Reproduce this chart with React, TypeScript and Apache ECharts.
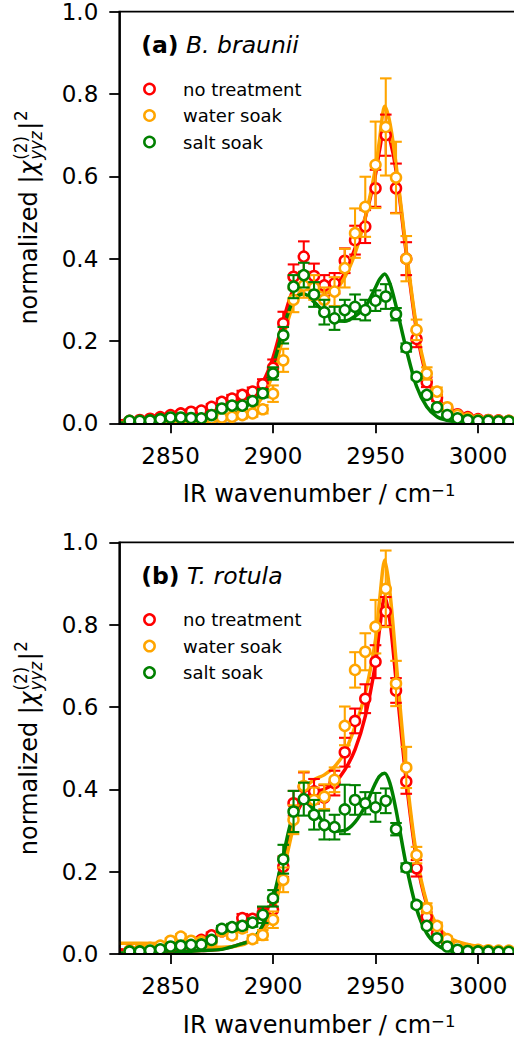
import React, { useEffect, useRef } from "react";
import * as echarts from "echarts";

// ---------- data ----------
const wavenumbers = [
  2830, 2835, 2840, 2845, 2850, 2855, 2860, 2865, 2870, 2875, 2880, 2885, 2890,
  2895, 2900, 2905, 2910, 2915, 2920, 2925, 2930, 2935, 2940, 2945, 2950, 2955,
  2960, 2965, 2970, 2975, 2980, 2985, 2990, 2995, 3000, 3005, 3010, 3015,
];

// panel (a) B. braunii
const redA = [0.006,0.008,0.011,0.015,0.020,0.024,0.028,0.031,0.040,0.052,0.060,0.069,0.077,0.095,0.135,0.243,0.356,0.405,0.358,0.335,0.340,0.395,0.445,0.478,0.571,0.700,0.571,0.400,0.205,0.100,0.062,0.036,0.022,0.015,0.010,0.008,0.007,0.006];
const orangeA = [0.005,0.005,0.005,0.006,0.007,0.008,0.009,0.010,0.012,0.014,0.016,0.020,0.024,0.034,0.072,0.153,0.300,0.335,0.330,0.300,0.320,0.377,0.462,0.526,0.628,0.720,0.597,0.400,0.227,0.121,0.077,0.039,0.020,0.012,0.008,0.007,0.006,0.006];
const greenA = [0.006,0.006,0.007,0.010,0.014,0.014,0.013,0.012,0.020,0.036,0.043,0.043,0.054,0.073,0.121,0.214,0.332,0.360,0.313,0.270,0.255,0.275,0.283,0.275,0.298,0.308,0.265,0.184,0.113,0.069,0.039,0.020,0.012,0.008,0.006,0.006,0.005,0.005];
const errRedA = [0.004,0.004,0.004,0.005,0.005,0.005,0.006,0.006,0.007,0.008,0.009,0.010,0.010,0.012,0.020,0.028,0.030,0.037,0.030,0.025,0.025,0.030,0.035,0.040,0.045,0.050,0.060,0.040,0.020,0.012,0.008,0.006,0.005,0.004,0.004,0.004,0.004,0.004];
const errOrangeA = [0.004,0.004,0.004,0.004,0.005,0.005,0.005,0.006,0.006,0.007,0.007,0.008,0.008,0.010,0.020,0.028,0.030,0.030,0.030,0.030,0.035,0.047,0.060,0.073,0.105,0.118,0.087,0.055,0.025,0.015,0.010,0.006,0.004,0.004,0.004,0.004,0.004,0.004];
const errGreenA = [0.004,0.004,0.004,0.004,0.004,0.005,0.005,0.005,0.006,0.006,0.007,0.007,0.008,0.010,0.015,0.020,0.028,0.030,0.030,0.030,0.028,0.025,0.030,0.025,0.025,0.030,0.015,0.010,0.006,0.004,0.004,0.004,0.004,0.004,0.004,0.004,0.004,0.004];

// panel (b) T. rotula
const redB = [0.008,0.009,0.010,0.012,0.018,0.022,0.028,0.034,0.045,0.055,0.063,0.087,0.085,0.100,0.107,0.212,0.366,0.406,0.395,0.380,0.415,0.490,0.566,0.620,0.710,0.832,0.640,0.419,0.208,0.090,0.050,0.026,0.015,0.010,0.008,0.007,0.006,0.006];
const orangeB = [0.008,0.010,0.015,0.020,0.032,0.042,0.032,0.030,0.030,0.055,0.045,0.062,0.036,0.046,0.083,0.180,0.326,0.408,0.374,0.382,0.423,0.554,0.690,0.734,0.795,0.887,0.657,0.453,0.240,0.111,0.068,0.036,0.018,0.012,0.010,0.009,0.008,0.008];
const greenB = [0.006,0.006,0.008,0.011,0.018,0.020,0.022,0.023,0.034,0.061,0.065,0.068,0.076,0.095,0.135,0.230,0.346,0.376,0.338,0.313,0.308,0.351,0.374,0.366,0.356,0.372,0.303,0.210,0.119,0.068,0.038,0.018,0.010,0.007,0.006,0.006,0.005,0.005];
const errRedB = [0.004,0.004,0.004,0.005,0.005,0.005,0.006,0.006,0.007,0.008,0.009,0.010,0.010,0.012,0.020,0.025,0.030,0.035,0.030,0.030,0.030,0.035,0.030,0.035,0.040,0.035,0.030,0.030,0.020,0.012,0.008,0.006,0.005,0.004,0.004,0.004,0.004,0.004];
const errOrangeB = [0.004,0.004,0.005,0.005,0.006,0.006,0.006,0.006,0.007,0.008,0.008,0.009,0.009,0.012,0.020,0.030,0.035,0.035,0.030,0.030,0.030,0.047,0.043,0.045,0.065,0.093,0.055,0.050,0.020,0.012,0.008,0.006,0.005,0.004,0.004,0.004,0.004,0.004];
const errGreenB = [0.004,0.004,0.004,0.004,0.005,0.005,0.005,0.005,0.006,0.007,0.008,0.008,0.010,0.020,0.020,0.035,0.050,0.040,0.036,0.035,0.030,0.060,0.036,0.027,0.035,0.030,0.015,0.010,0.006,0.004,0.004,0.004,0.004,0.004,0.004,0.004,0.004,0.004];

// fitted curves
const fitX = [2825,2835,2845,2855,2865,2875,2885,2890,2895,2900,2905,2910,2915,2920,2925,2930,2935,2940,2945,2950,2952,2954.5,2957,2960,2965,2970,2975,2980,2985,2990,3000,3010,3020];
const fitRedA = [0.006,0.008,0.012,0.018,0.027,0.040,0.058,0.070,0.100,0.160,0.250,0.325,0.340,0.336,0.330,0.335,0.365,0.425,0.500,0.605,0.665,0.720,0.690,0.615,0.413,0.227,0.113,0.062,0.036,0.024,0.012,0.008,0.006];
const fitOrangeA = [0.002,0.002,0.003,0.004,0.006,0.008,0.020,0.035,0.065,0.120,0.210,0.290,0.325,0.325,0.318,0.322,0.355,0.413,0.500,0.620,0.690,0.770,0.730,0.630,0.420,0.235,0.120,0.060,0.032,0.020,0.010,0.006,0.004];
const fitGreenA = [0.001,0.001,0.002,0.003,0.004,0.010,0.035,0.055,0.085,0.140,0.230,0.300,0.315,0.295,0.270,0.250,0.248,0.260,0.283,0.330,0.350,0.363,0.340,0.285,0.180,0.090,0.040,0.016,0.007,0.003,0.001,0.001,0.000];
const fitRedB = [0.010,0.008,0.007,0.007,0.008,0.012,0.025,0.035,0.060,0.110,0.210,0.320,0.374,0.394,0.400,0.415,0.447,0.496,0.577,0.706,0.790,0.868,0.810,0.666,0.420,0.230,0.120,0.065,0.040,0.027,0.016,0.011,0.008];
const fitOrangeB = [0.026,0.026,0.025,0.022,0.018,0.016,0.022,0.035,0.055,0.100,0.200,0.310,0.400,0.423,0.435,0.455,0.490,0.552,0.633,0.763,0.860,0.957,0.880,0.714,0.440,0.240,0.125,0.070,0.043,0.030,0.018,0.013,0.010];
const fitGreenB = [0.002,0.002,0.003,0.005,0.008,0.011,0.025,0.035,0.070,0.135,0.240,0.340,0.370,0.350,0.318,0.298,0.300,0.320,0.360,0.415,0.432,0.439,0.415,0.350,0.215,0.110,0.050,0.022,0.009,0.004,0.001,0.000,0.000];

const seriesNames = ["no treatment", "water soak", "salt soak"];
const xTicks = [2850, 2900, 2950, 3000];
const panelTitles = [
  { tag: "(a)", species: "B. braunii" },
  { tag: "(b)", species: "T. rotula" },
];

// ---------- styling ----------
const COLORS = ["#ff0000", "#ffa500", "#008000"];
const FONT = "DejaVu Sans";
const GRID_LEFT = 119.3;
const GRID_W = 399.7;
const GRID_H = 411.6;
const GRID_TOPS = [11.7, 542.3];

export default function App() {
  const ref = useRef<HTMLDivElement>(null);

  useEffect(() => {
    if (!ref.current) return;
    const chart = echarts.init(ref.current, undefined, { renderer: "svg" });

    const canvas = document.createElement("canvas");
    const ctx = canvas.getContext("2d")!;
    const measure = (t: string, size: number, style = "normal") => {
      ctx.font = `${style} ${size}px "${FONT}"`;
      return ctx.measureText(t).width;
    };

    const panels = [
      { pts: [redA, orangeA, greenA], errs: [errRedA, errOrangeA, errGreenA], fits: [fitRedA, fitOrangeA, fitGreenA] },
      { pts: [redB, orangeB, greenB], errs: [errRedB, errOrangeB, errGreenB], fits: [fitRedB, fitOrangeB, fitGreenB] },
    ];

    const grids = GRID_TOPS.map((top) => ({
      left: GRID_LEFT,
      top,
      width: GRID_W,
      height: GRID_H,
      show: true,
      borderColor: "#000",
      borderWidth: 1.8,
      backgroundColor: "transparent",
    }));

    const xAxes = GRID_TOPS.map((_, i) => ({
      type: "value",
      gridIndex: i,
      min: 2825,
      max: 3020,
      z: 10,
      axisLine: { show: true, onZero: false, lineStyle: { color: "#000", width: 1.8 } },
      axisTick: { show: true, inside: false, length: 10, customValues: xTicks, lineStyle: { color: "#000", width: 1.8 } },
      axisLabel: {
        show: true,
        customValues: xTicks,
        margin: 21,
        fontSize: 23,
        fontFamily: FONT,
        color: "#000",
        formatter: (v: number) => String(Math.round(v)),
      },
      splitLine: { show: false },
      name: "{m|IR wavenumber / cm}{s|\u22121}",
      nameLocation: "middle",
      nameGap: 59,
      nameTextStyle: {
        fontFamily: FONT,
        fontSize: 24,
        color: "#000",
        rich: {
          m: { fontFamily: FONT, fontSize: 24, color: "#000" },
          s: { fontFamily: FONT, fontSize: 16.5, color: "#000", verticalAlign: "top", lineHeight: 12 },
        },
      },
    }));

    const yAxes = GRID_TOPS.map((_, i) => ({
      type: "value",
      gridIndex: i,
      min: 0,
      max: 1,
      interval: 0.2,
      z: 10,
      axisLine: { show: true, lineStyle: { color: "#000", width: 1.8 } },
      axisTick: { show: true, inside: false, length: 10, lineStyle: { color: "#000", width: 1.8 } },
      axisLabel: {
        margin: 21,
        fontSize: 23,
        fontFamily: FONT,
        color: "#000",
        formatter: (v: number) => v.toFixed(1),
      },
      splitLine: { show: false },
    }));

    const series: any[] = [];
    panels.forEach((p, pi) => {
      // fit lines
      p.fits.forEach((f, si) => {
        series.push({
          type: "line",
          name: seriesNames[si] + " fit",
          xAxisIndex: pi,
          yAxisIndex: pi,
          data: fitX.map((x, k) => [x, f[k]]),
          showSymbol: false,
          symbol: "none",
          smooth: 0.3,
          lineStyle: { color: COLORS[si], width: 3.5, opacity: 1 },
          z: 2,
          silent: true,
        });
      });
      // error bars + markers
      p.pts.forEach((vals, si) => {
        const color = COLORS[si];
        series.push({
          type: "custom",
          name: seriesNames[si] + " error",
          xAxisIndex: pi,
          yAxisIndex: pi,
          z: 3 + si * 2,
          data: wavenumbers.map((w, k) => [w, vals[k], p.errs[si][k]]),
          encode: { x: 0, y: 1 },
          renderItem: (_params: any, api: any) => {
            const x = api.value(0);
            const y = api.value(1);
            const e = api.value(2);
            const top = api.coord([x, y + e]);
            const bot = api.coord([x, y - e]);
            const hw = 5.8;
            const st = { stroke: color, lineWidth: 2.1 };
            return {
              type: "group",
              children: [
                { type: "line", shape: { x1: top[0], y1: top[1], x2: bot[0], y2: bot[1] }, style: st },
                { type: "line", shape: { x1: top[0] - hw, y1: top[1], x2: top[0] + hw, y2: top[1] }, style: st },
                { type: "line", shape: { x1: bot[0] - hw, y1: bot[1], x2: bot[0] + hw, y2: bot[1] }, style: st },
              ],
            };
          },
          silent: true,
        });
        series.push({
          type: "scatter",
          name: seriesNames[si],
          xAxisIndex: pi,
          yAxisIndex: pi,
          z: 4 + si * 2,
          data: wavenumbers.map((w, k) => [w, vals[k]]),
          symbol: "circle",
          symbolSize: 10,
          itemStyle: { color: "#ffffff", borderColor: color, borderWidth: 2.5, opacity: 1 },
          emphasis: { disabled: true },
          silent: true,
        });
      });
    });

    // ---------- graphic texts ----------
    const graphics: any[] = [];
    const BASE = 0.346; // central-baseline offset (em)

    // y-axis label with stacked sub/superscripts
    const FS = 24;
    const SS = 16.8;
    const wNorm = measure("normalized ", FS);
    const wBar = measure("|", FS);
    const wChi = measure("\u03c7", FS, "italic");
    const wScr = Math.max(measure("(2)", SS), measure("yyz", SS, "italic"));
    const wSup = measure("2", SS);
    const x2 = wNorm;
    const x3 = x2 + wBar + 0.5;
    const x4 = x3 + wChi + 1;
    const x5 = x4 + wScr + 1.5;
    const x6 = x5 + wBar + 0.5;
    const L = x6 + wSup;
    const txt = (text: string, x: number, baseY: number, size: number, style = "normal") => ({
      type: "text",
      x,
      y: baseY - BASE * size,
      style: {
        text,
        fontFamily: FONT,
        fontSize: size,
        fontStyle: style,
        fill: "#000",
        align: "left",
        verticalAlign: "middle",
      },
    });

    GRID_TOPS.forEach((top, pi) => {
      const mid = top + GRID_H / 2;
      graphics.push({
        type: "group",
        x: 37.3,
        y: mid + L / 2,
        rotation: Math.PI / 2,
        children: [
          txt("normalized ", 0, 0, FS),
          txt("|", x2, 0, FS),
          txt("\u03c7", x3, 0, FS, "italic"),
          txt("(2)", x4, -10, SS),
          txt("yyz", x4, 5, SS, "italic"),
          txt("|", x5, 0, FS),
          txt("2", x6, -10, SS),
        ],
      });

      // panel title
      const TS = 23.5;
      graphics.push({
        type: "text",
        x: 141.2,
        y: top + 41.6 - BASE * TS,
        style: {
          text: `{b|${panelTitles[pi].tag}} {i|${panelTitles[pi].species}}`,
          fontFamily: FONT,
          fontSize: TS,
          fill: "#000",
          align: "left",
          verticalAlign: "middle",
          rich: {
            b: { fontFamily: FONT, fontSize: TS, fontWeight: "bold", fill: "#000" },
            i: { fontFamily: FONT, fontSize: TS, fontStyle: "italic", fill: "#000" },
          },
        },
      });

      // legend
      seriesNames.forEach((name, si) => {
        const cy = top + 77.3 + si * 26.5;
        graphics.push({
          type: "circle",
          shape: { cx: 149.5, cy, r: 5.2 },
          style: { fill: "#fff", stroke: COLORS[si], lineWidth: 2.5 },
          z: 20,
        });
        graphics.push({
          type: "text",
          x: 183,
          y: cy,
          z: 20,
          style: {
            text: name,
            fontFamily: FONT,
            fontSize: 18,
            fill: "#000",
            align: "left",
            verticalAlign: "middle",
          },
        });
      });

      // white mask below x-axis (clips markers like matplotlib)
      graphics.push({
        type: "rect",
        shape: { x: GRID_LEFT + 1.5, y: top + GRID_H + 0.9, width: GRID_W, height: 10 },
        style: { fill: "#fff" },
        z: 9,
        silent: true,
      });
    });

    chart.setOption({
      animation: false,
      backgroundColor: "#fff",
      grid: grids,
      xAxis: xAxes,
      yAxis: yAxes,
      series,
      graphic: { elements: graphics },
    });

    return () => chart.dispose();
  }, []);

  return (
    <div
      style={{
        position: "absolute",
        left: 0,
        top: 0,
        width: 514,
        height: 1043,
        overflow: "hidden",
        background: "#fff",
      }}
    >
      <div ref={ref} style={{ width: 530, height: 1043 }} />
    </div>
  );
}
